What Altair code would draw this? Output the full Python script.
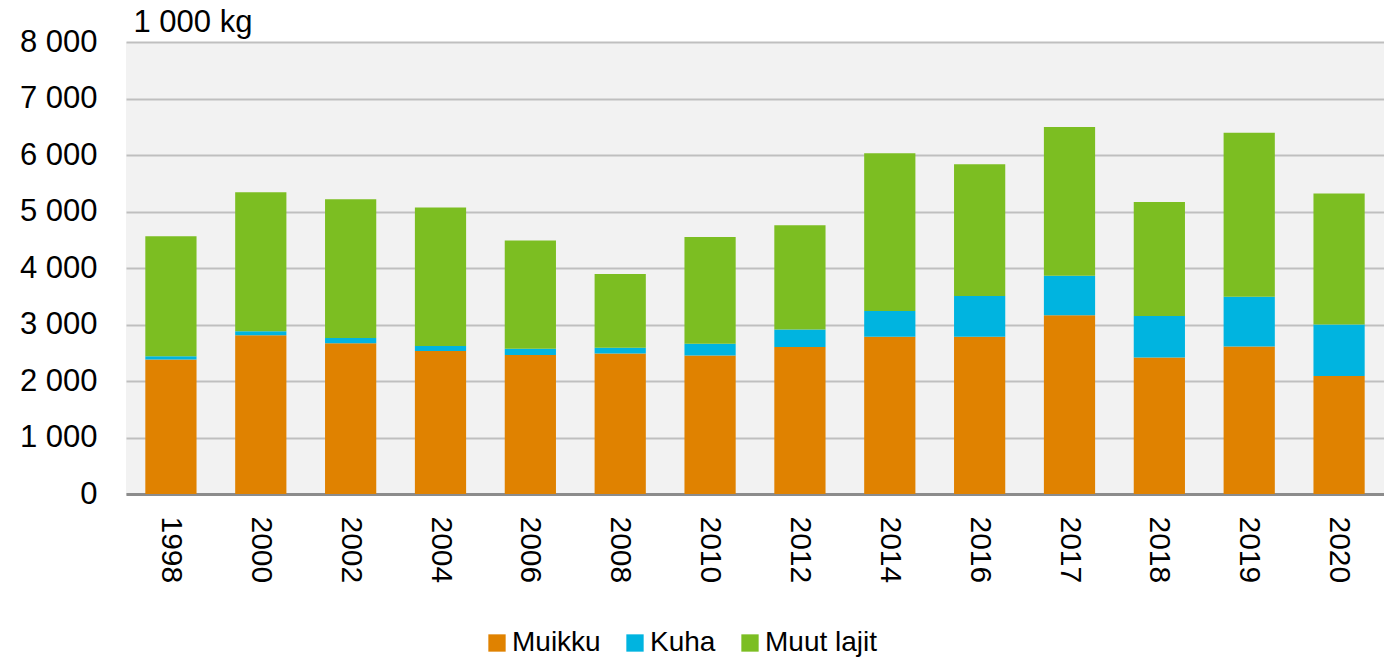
import altair as alt
import pandas as pd

years = ["1998", "2000", "2002", "2004", "2006", "2008", "2010", "2012",
         "2014", "2016", "2017", "2018", "2019", "2020"]
muikku = [2380, 2810, 2670, 2530, 2460, 2485, 2450, 2600, 2785, 2785, 3165, 2415, 2610, 2090]
kuha = [60, 70, 90, 90, 110, 105, 210, 310, 455, 720, 700, 735, 880, 910]
muut = [2120, 2460, 2455, 2450, 1915, 1305, 1890, 1845, 2790, 2330, 2630, 2020, 2905, 2320]

series = ["Muikku", "Kuha", "Muut lajit"]
colors = ["#E08200", "#00B4E0", "#7CBE22"]

rows = []
for i, y in enumerate(years):
    for k, (name, vals) in enumerate(zip(series, [muikku, kuha, muut])):
        rows.append({"Vuosi": y, "Laji": name, "Arvo": vals[i], "ord": k})
df = pd.DataFrame(rows)

FONT = "Liberation Sans"

chart = alt.Chart(df).mark_bar().encode(
    x=alt.X("Vuosi:N", sort=years,
            scale=alt.Scale(paddingInner=0.43, paddingOuter=0.215),
            axis=alt.Axis(title=None, labelAngle=90, labelFontSize=30,
                          labelFont=FONT, labelColor="#000000",
                          labelPadding=22, ticks=False, grid=False,
                          domainColor="#8C8C8C", domainWidth=3)),
    y=alt.Y("Arvo:Q", stack="zero",
            scale=alt.Scale(domain=[0, 8000], nice=False),
            axis=alt.Axis(values=[0, 1000, 2000, 3000, 4000, 5000, 6000, 7000, 8000],
                          labelExpr="replace(format(datum.value, ','), ',', ' ')",
                          labelFontSize=31, labelFont=FONT, labelColor="#000000",
                          labelPadding=29, ticks=False, domain=False,
                          gridColor="#BFBFBF", gridWidth=2,
                          title="1 000 kg", titleAngle=0, titleAlign="left",
                          titleBaseline="alphabetic", titleX=7, titleY=-11,
                          titleFontSize=31, titleFont=FONT, titleFontWeight="normal",
                          titleColor="#000000")),
    color=alt.Color("Laji:N", sort=series,
                    scale=alt.Scale(domain=series, range=colors),
                    legend=alt.Legend(title=None, orient="none", direction="horizontal",
                                      legendX=357, legendY=587,
                                      symbolType="square", symbolSize=300,
                                      symbolStrokeWidth=0,
                                      labelFontSize=28, labelFont=FONT,
                                      labelColor="#000000", labelOffset=1,
                                      columnPadding=20)),
    order=alt.Order("ord:Q", sort="ascending"),
).properties(
    width=1258, height=452,
    autosize=alt.AutoSizeParams(type="none"),
    padding={"left": 126, "top": 42, "right": 0, "bottom": 166},
    background="#FFFFFF",
).configure_view(
    fill="#F2F2F2", stroke="transparent", strokeWidth=0
)

chart.save("out.html", embed_options={"renderer": "svg", "actions": False})
